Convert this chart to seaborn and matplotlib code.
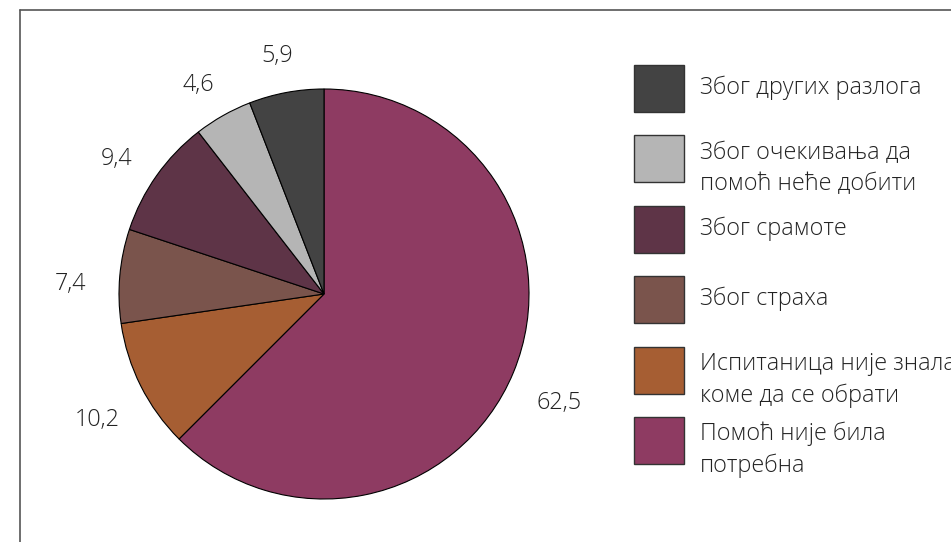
import matplotlib
matplotlib.use("Agg")
import matplotlib.pyplot as plt
import seaborn as sns
from matplotlib.patches import Rectangle
from matplotlib.lines import Line2D

sns.set_theme(style="white")
plt.rcParams['font.family'] = ['Open Sans', 'DejaVu Sans']

categories = ["Помоћ није била\nпотребна",
              "Испитаница није знала\nкоме да се обрати",
              "Због страха",
              "Због срамоте",
              "Због очекивања да\nпомоћ неће добити",
              "Због других разлога"]
values = [62.5, 10.2, 7.4, 9.4, 4.6, 5.9]
value_labels = ["62,5", "10,2", "7,4", "9,4", "4,6", "5,9"]
colors = ["#8E3B62", "#A65E33", "#7A544C", "#5E3447", "#B5B5B5", "#434343"]

W, H = 951, 542
fig = plt.figure(figsize=(W / 100, H / 100), dpi=100)
fig.patch.set_facecolor("white")

FS = 16.8
TXT = "#222222"
cx, cy, r = 324, 294, 205
ax = fig.add_axes([(cx - r) / W, (H - cy - r) / H, 2 * r / W, 2 * r / H])
wedges, texts = ax.pie(values, labels=value_labels, colors=colors,
                       startangle=90, counterclock=False, labeldistance=1.24,
                       wedgeprops=dict(edgecolor="black", linewidth=0.8),
                       textprops=dict(fontsize=FS, color=TXT, fontweight="light"))
for t in texts:
    t.set_ha("center")
    t.set_va("top")
ax.set_xlim(-1, 1)
ax.set_ylim(-1, 1)
ax.set_aspect("equal")
ax.axis("off")

# legend drawn as swatches + text, top to bottom (reverse of slice order)
sw_left, sw_w, sw_h = 634, 50, 47
top0, step = 65, 70.4
text_x = 700
for i, (lab, col) in enumerate(zip(categories[::-1], colors[::-1])):
    top = top0 + i * step
    fig.add_artist(Rectangle((sw_left / W, 1 - (top + sw_h) / H), sw_w / W, sw_h / H,
                             transform=fig.transFigure, facecolor=col,
                             edgecolor="#333333", linewidth=1.0))
    nlines = lab.count("\n") + 1
    yc = top + sw_h / 2 - 1 + (nlines - 1) * 10.5
    fig.text(text_x / W, 1 - yc / H, lab, ha="left", va="center",
             fontsize=FS, fontweight="light", color=TXT, linespacing=1.42)

# frame lines
fig.add_artist(Line2D([20 / W, 20 / W], [0, 1 - 10 / H], transform=fig.transFigure,
                      color="#555555", linewidth=1.2))
fig.add_artist(Line2D([20 / W, 1], [1 - 10 / H, 1 - 10 / H], transform=fig.transFigure,
                      color="#555555", linewidth=1.2))

fig.savefig("out.png", dpi=100, facecolor="white")
